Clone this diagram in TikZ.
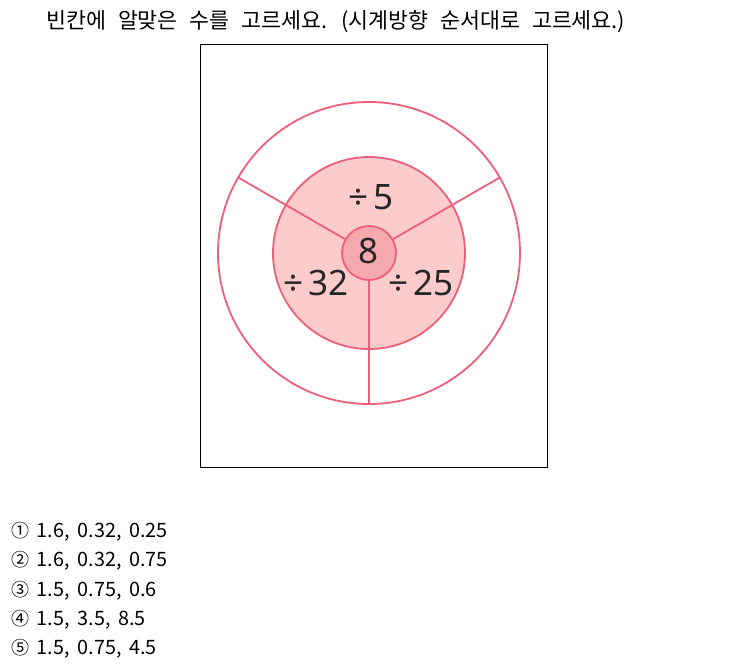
\documentclass[tikz,border=0pt]{standalone}
\usepackage{fontspec}
\setmainfont{Noto Sans CJK KR}
\newfontfamily\numfont{Noto Sans}
\definecolor{ringline}{HTML}{EE6079}
\definecolor{midfill}{HTML}{FBCCCB}
\definecolor{innerfill}{HTML}{F6A9AD}
\newcommand{\dv}[1]{÷\hspace{5pt}#1}
\newcommand{\titlef}{\fontsize{21.7}{24}\selectfont\spaceskip=0.55em\relax}
\newcommand{\optf}{\fontsize{19.8}{21}\selectfont\spaceskip=0.4em\relax}
\newcommand{\cnum}[1]{\raisebox{0.5pt}{\fontsize{18}{18}\selectfont #1}\hspace{7.5pt}}
\begin{document}
\begin{tikzpicture}[x=1pt,y=-1pt,
  ring/.style={draw=ringline,line width=1.8pt},
  bigtxt/.style={font=\numfont\fontsize{35}{37}\selectfont,inner sep=0pt,text=black!85},
  opt/.style={font=\optf,anchor=west,inner sep=0pt},
  title/.style={font=\titlef,anchor=west,inner sep=0pt}]
\useasboundingbox[fill=white] (0,0) rectangle (740,672);
\node[title] (ttl) at (46,22) {빈칸에 알맞은 수를 고르세요. (시계방향 순서대로 고르세요.)};
\node[draw=black,line width=0.9pt,minimum width=347pt,minimum height=423pt,anchor=north west,inner sep=0pt] (frame) at (200,44) {};
\coordinate (c) at (369,253);
\node[ring,circle,minimum size=302pt,inner sep=0pt] (outer) at (c) {};
\node[ring,circle,fill=midfill,minimum size=192pt,inner sep=0pt] (mid) at (c) {};
\node[ring,circle,fill=innerfill,minimum size=54pt,inner sep=0pt] (inner) at (c) {};
\draw[ring] (inner.150) -- (outer.150);
\draw[ring] (inner.30) -- (outer.30);
\draw[ring] (inner.270) -- (outer.270);
\node[bigtxt] (n8) at (369,251) {8};
\node[bigtxt] (d5) at (371,197) {\dv{5}};
\node[bigtxt] (d32) at (316,283) {\dv{32}};
\node[bigtxt] (d25) at (421,283) {\dv{25}};
\node[opt] (o1) at (11,532) {\cnum{①}1.6, 0.32, 0.25};
\node[opt] (o2) at (11,561) {\cnum{②}1.6, 0.32, 0.75};
\node[opt] (o3) at (11,591) {\cnum{③}1.5, 0.75, 0.6};
\node[opt] (o4) at (11,620) {\cnum{④}1.5, 3.5, 8.5};
\node[opt] (o5) at (11,649) {\cnum{⑤}1.5, 0.75, 4.5};
\end{tikzpicture}
\end{document}
